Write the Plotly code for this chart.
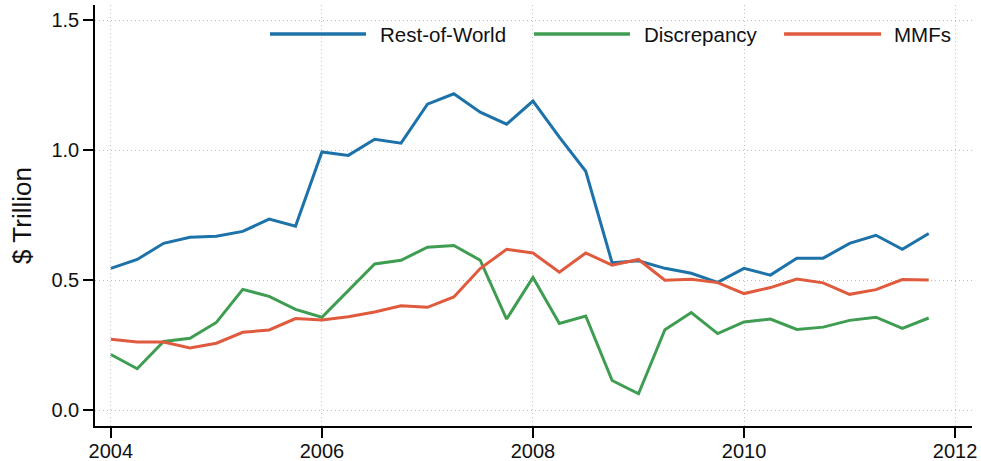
import plotly.graph_objects as go

quarters = [2004 + 0.25 * i for i in range(32)]

rest_of_world = [0.546, 0.580, 0.642, 0.665, 0.669, 0.688, 0.735, 0.708,
                 0.993, 0.980, 1.042, 1.027, 1.177, 1.217, 1.146, 1.100,
                 1.189, 1.050, 0.919, 0.567, 0.575, 0.546, 0.527, 0.492,
                 0.546, 0.520, 0.585, 0.585, 0.642, 0.673, 0.619, 0.680]

discrepancy = [0.215, 0.160, 0.265, 0.277, 0.338, 0.465, 0.438, 0.388,
               0.358, 0.459, 0.563, 0.577, 0.627, 0.634, 0.577, 0.351,
               0.511, 0.334, 0.363, 0.115, 0.064, 0.310, 0.376, 0.295,
               0.340, 0.351, 0.311, 0.320, 0.346, 0.358, 0.315, 0.355]

mmfs = [0.273, 0.263, 0.263, 0.240, 0.258, 0.300, 0.309, 0.353,
        0.347, 0.360, 0.378, 0.402, 0.396, 0.436, 0.545, 0.619,
        0.605, 0.531, 0.605, 0.558, 0.580, 0.500, 0.504, 0.491,
        0.449, 0.472, 0.505, 0.490, 0.446, 0.464, 0.503, 0.501]

series_names = ["Rest-of-World", "Discrepancy", "MMFs"]
series_colors = ["#1c72a9", "#3f9d52", "#e05a3e"]

x_ticks = [2004, 2006, 2008, 2010, 2012]
y_ticks = [0.0, 0.5, 1.0, 1.5]
y_tick_labels = ["0.0", "0.5", "1.0", "1.5"]

FONT = "Liberation Sans, Arial, Helvetica, sans-serif"
TXT = "#111111"

fig = go.Figure()
for name, vals, col in zip(series_names, [rest_of_world, discrepancy, mmfs], series_colors):
    fig.add_trace(go.Scatter(x=quarters, y=vals, mode="lines", name=name,
                             line=dict(color=col, width=3), showlegend=False))

# custom legend (white box with line samples and labels)
shapes = [dict(type="rect", xref="paper", yref="paper", x0=0.186, x1=0.9886,
               y0=0.8836, y1=0.9857, fillcolor="white", line=dict(width=0), layer="below")]
annotations = []
leg_x = [(0.1995, 0.3090, 0.3227), (0.5006, 0.6100, 0.6237), (0.7857, 0.8963, 0.9088)]
for (x0, x1, xt), name, col in zip(leg_x, series_names, series_colors):
    shapes.append(dict(type="line", xref="paper", yref="paper", x0=x0, x1=x1,
                       y0=0.9311, y1=0.9311, line=dict(color=col, width=3.5)))
    annotations.append(dict(xref="paper", yref="paper", x=xt, y=0.9311, text=name,
                            showarrow=False, xanchor="left", yanchor="middle",
                            font=dict(family=FONT, size=20.5, color=TXT)))

fig.update_layout(
    width=981, height=461,
    margin=dict(l=95, r=9, t=5, b=35),
    paper_bgcolor="white", plot_bgcolor="white",
    font=dict(family=FONT, size=20, color=TXT),
    shapes=shapes, annotations=annotations,
    showlegend=False,
)
GRID = dict(showgrid=True, gridcolor="#bdbdbd", gridwidth=1, griddash="1px,3px")
AX = dict(showline=True, linecolor="black", linewidth=1.5,
          ticks="outside", ticklen=10, tickwidth=1.5, tickcolor="black",
          zeroline=False, automargin=False,
          tickfont=dict(family=FONT, size=20, color=TXT))
fig.update_xaxes(range=[2003.85, 2012.16], tickvals=x_ticks,
                 ticktext=[str(v) for v in x_ticks], ticklabelstandoff=-4, **GRID, **AX)
fig.update_yaxes(range=[-0.06, 1.558], tickvals=y_ticks, ticktext=y_tick_labels,
                 title=dict(text="$ Trillion", font=dict(family=FONT, size=26, color=TXT),
                            standoff=12),
                 **GRID, **AX)

fig.write_html("out.html", config={"displayModeBar": False},
               post_script="document.body.style.margin='0';document.body.style.overflow='hidden';")
